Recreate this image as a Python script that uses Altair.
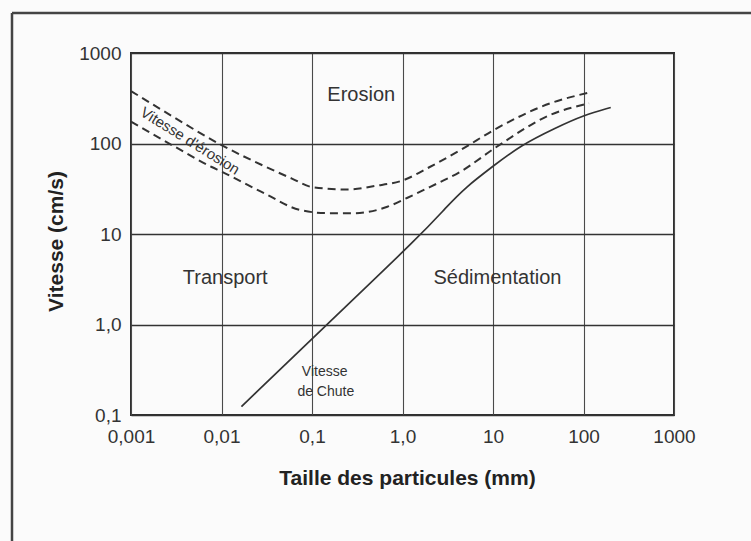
import json
import altair as alt
import pandas as pd

# ---- axis ticks and labels ----
x_ticks = [0.001, 0.01, 0.1, 1, 10, 100, 1000]
x_tick_labels = ["0,001", "0,01", "0,1", "1,0", "10", "100", "1000"]
y_ticks = [0.1, 1, 10, 100, 1000]
y_tick_labels = ["0,1", "1,0", "10", "100", "1000"]

# ---- erosion velocity band (upper and lower dashed curves) ----
erosion_upper_size = [0.001, 0.003, 0.01, 0.03, 0.06, 0.1, 0.25, 0.5, 1.0, 2.0, 4.4, 11, 43, 115]
erosion_upper_speed = [380, 194, 96, 56, 41, 33, 31, 34, 39, 55, 85, 147, 278, 365]

erosion_lower_size = [0.001, 0.003, 0.0078, 0.01, 0.03, 0.074, 0.15, 0.3, 0.68, 1.12, 2.0, 4.4, 11, 43, 115]
erosion_lower_speed = [174, 93, 55, 49, 28, 18.4, 17, 17, 20, 25, 33, 49, 92, 207, 278]

# ---- settling (fall) velocity, solid curve ----
fall_size = [0.0166, 0.146, 1.64, 3, 5, 10, 20, 50, 100, 200]
fall_speed = [0.124, 1.0, 10, 19.5, 33, 56, 95, 150, 205, 250]

# ---- region labels ----
region_labels = ["Erosion", "Transport", "Sédimentation"]
region_x = [0.35, 0.011, 11.2]
region_y = [344, 3.27, 3.27]

curve_label = ["Vitesse d'érosion"]
curve_label_x = [0.0045]
curve_label_y = [107]

fall_labels = ["Vitesse", "de Chute"]
fall_label_x = [0.138, 0.142]
fall_label_y = [0.30, 0.18]

INK = "#333333"
FONT = "Liberation Sans"

xscale = alt.Scale(type="log", domain=[0.001, 1000], nice=False)
yscale = alt.Scale(type="log", domain=[0.1, 1000], nice=False)

x_expr = json.dumps(x_tick_labels) + "[round(log(datum.value)/LN10)+3]"
y_expr = json.dumps(y_tick_labels) + "[round(log(datum.value)/LN10)+1]"

xaxis = alt.Axis(
    values=x_ticks, labelExpr=x_expr, title="Taille des particules (mm)",
    grid=True, gridColor="#4a4a4a", gridWidth=1.1, ticks=False, domain=False,
    labelFlush=False, labelOverlap=False, labelPadding=12, labelFontSize=19,
    labelColor=INK, labelFont=FONT,
    titleFont=FONT, titleFontSize=21, titleFontWeight="bold", titleColor="#222222",
    titleX=276, titleY=63, titleAnchor="start", titleAlign="center", titleBaseline="middle",
)
yaxis = alt.Axis(
    values=y_ticks, labelExpr=y_expr, title="Vitesse (cm/s)",
    grid=True, gridColor="#333333", gridWidth=1.7, ticks=False, domain=False,
    labelFlush=False, labelOverlap=False, labelPadding=10, labelFontSize=19,
    labelColor=INK, labelFont=FONT,
    titleFont=FONT, titleFontSize=21, titleFontWeight="bold", titleColor="#222222",
    titleX=-75, titleY=188, titleAngle=-90, titleAnchor="start", titleAlign="center",
    titleBaseline="middle",
)

up = pd.DataFrame({"size": erosion_upper_size, "speed": erosion_upper_speed})
lo = pd.DataFrame({"size": erosion_lower_size, "speed": erosion_lower_speed})
fall = pd.DataFrame({"size": fall_size, "speed": fall_speed})

base_x = alt.X("size:Q", scale=xscale, axis=xaxis)
base_y = alt.Y("speed:Q", scale=yscale, axis=yaxis)

upper_line = alt.Chart(up).mark_line(
    color=INK, strokeWidth=2, strokeDash=[8, 5], interpolate="monotone"
).encode(x=base_x, y=base_y)
lower_line = alt.Chart(lo).mark_line(
    color=INK, strokeWidth=2, strokeDash=[8, 5], interpolate="monotone"
).encode(x=alt.X("size:Q", scale=xscale), y=alt.Y("speed:Q", scale=yscale))
fall_line = alt.Chart(fall).mark_line(
    color=INK, strokeWidth=1.7, interpolate="basis"
).encode(x=alt.X("size:Q", scale=xscale), y=alt.Y("speed:Q", scale=yscale))

reg = pd.DataFrame({"t": region_labels, "x": region_x, "y": region_y})
region_text = alt.Chart(reg).mark_text(
    font=FONT, fontSize=20, color=INK, align="center", baseline="middle"
).encode(x=alt.X("x:Q", scale=xscale), y=alt.Y("y:Q", scale=yscale), text="t:N")

cl = pd.DataFrame({"t": curve_label, "x": curve_label_x, "y": curve_label_y})
curve_text = alt.Chart(cl).mark_text(
    font=FONT, fontSize=15, color=INK, align="center", baseline="middle", angle=32
).encode(x=alt.X("x:Q", scale=xscale), y=alt.Y("y:Q", scale=yscale), text="t:N")

fl = pd.DataFrame({"t": fall_labels, "x": fall_label_x, "y": fall_label_y})
fall_text = alt.Chart(fl).mark_text(
    font=FONT, fontSize=14, color=INK, align="center", baseline="middle"
).encode(x=alt.X("x:Q", scale=xscale), y=alt.Y("y:Q", scale=yscale), text="t:N")

# outer scanned frame (top and left edges)
frame_top = alt.Chart(pd.DataFrame({"a": [0]})).mark_rule(
    color="#444444", strokeWidth=2.5
).encode(x=alt.value(-119), x2=alt.value(640), y=alt.value(-40))
frame_left = alt.Chart(pd.DataFrame({"a": [0]})).mark_rule(
    color="#444444", strokeWidth=2.5
).encode(x=alt.value(-119), y=alt.value(-40), y2=alt.value(500))

chart = alt.layer(
    upper_line, lower_line, fall_line, region_text, curve_text, fall_text,
    frame_top, frame_left,
).properties(
    width=543, height=362,
    autosize=alt.AutoSizeParams(type="none"),
    padding={"left": 131, "top": 53, "right": 77, "bottom": 126},
    background="#fbfbfb",
).configure_view(
    stroke="#2f2f2f", strokeWidth=2
)

chart.save("out.html", embed_options={"renderer": "svg", "actions": False})
